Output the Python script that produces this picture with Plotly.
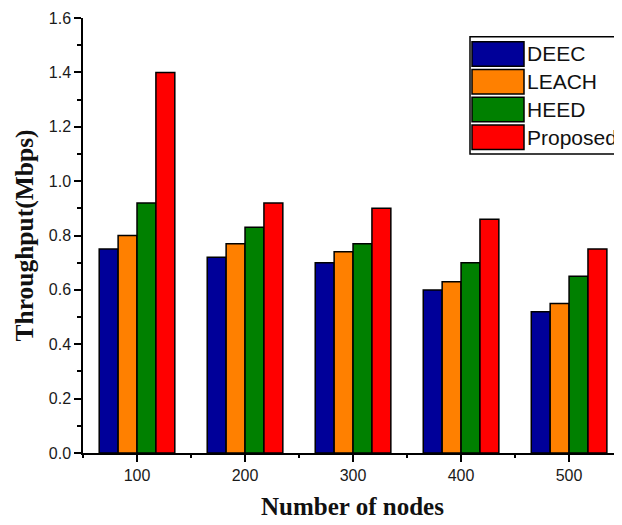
import plotly.graph_objects as go

# ---- data ----
nodes = [100, 200, 300, 400, 500]
series_names = ["DEEC", "LEACH", "HEED", "Proposed"]
deec = [0.75, 0.72, 0.70, 0.60, 0.52]
leach = [0.80, 0.77, 0.74, 0.63, 0.55]
heed = [0.92, 0.83, 0.77, 0.70, 0.65]
proposed = [1.40, 0.92, 0.90, 0.86, 0.75]
y_ticks = [0.0, 0.2, 0.4, 0.6, 0.8, 1.0, 1.2, 1.4, 1.6]

colors = ["#000099", "#FF8000", "#008000", "#FF0000"]
values = [deec, leach, heed, proposed]

# page has an 8px body margin, so the figure is slightly smaller
OFF = 8
W, H = 622 - OFF, 525 - OFF
ML, MR, MT = 83 - OFF, 0, 18 - OFF
MB = H - (453.3 - OFF)
PW = W - ML - MR
PH = H - MT - MB


def px(x):
    # x in page pixels
    return (x - OFF - ML) / PW


def py(y):
    # y in page pixels
    return (H - MB - (y - OFF)) / PH


fig = go.Figure()
for name, vals, col in zip(series_names, values, colors):
    fig.add_trace(go.Bar(
        x=nodes, y=vals, name=name,
        marker=dict(color=col, line=dict(color="black", width=1.5)),
        showlegend=False,
    ))

axis_font = dict(family="Liberation Sans, Arial", size=16, color="#1a1a1a")
ytitle_font = dict(family="Liberation Serif, Times New Roman", size=25.5, color="#111111")
xtitle_font = dict(family="Liberation Serif, Times New Roman", size=25, color="#111111")

fig.update_layout(
    width=W, height=H,
    margin=dict(l=ML, r=MR, t=MT, b=MB, autoexpand=False),
    plot_bgcolor="white", paper_bgcolor="white",
    barmode="group", bargap=0.3, bargroupgap=0,
    xaxis=dict(
        range=[50, 549], tickvals=nodes, ticktext=[str(n) for n in nodes],
        ticks="outside", ticklen=7, tickwidth=1.5, tickcolor="black",
        showline=True, linecolor="black", linewidth=1.5, showgrid=False,
        zeroline=False, tickfont=axis_font,
        minor=dict(dtick=50, tick0=0, ticks="outside", ticklen=3,
                   tickwidth=1.5, tickcolor="black", showgrid=False),
        title=dict(text="<b>Number of nodes</b>", font=xtitle_font, standoff=15),
        automargin=False,
    ),
    yaxis=dict(
        range=[0, 1.6], tickvals=y_ticks, ticktext=[f"{v:.1f}" for v in y_ticks],
        ticks="outside", ticklen=7, tickwidth=1.5, tickcolor="black",
        showline=True, linecolor="black", linewidth=1.5, showgrid=False,
        zeroline=False, tickfont=axis_font,
        minor=dict(dtick=0.1, tick0=0, ticks="outside", ticklen=4,
                   tickwidth=1.5, tickcolor="black", showgrid=False),
        title=dict(text="<b>Throughput(Mbps)</b>", font=ytitle_font, standoff=8),
        automargin=False,
    ),
)

# ---- legend box drawn like the original (large swatches) ----
shapes = []
annotations = []
box_left, box_top, box_bottom = 470, 36.7, 154
shapes.append(dict(type="rect", xref="paper", yref="paper",
                   x0=px(box_left), x1=px(660), y0=py(box_bottom), y1=py(box_top),
                   line=dict(color="black", width=1.5), fillcolor="white", layer="above"))
row_top0, row_h, row_pitch = 41.7, 24.5, 27.8
for i, (name, col) in enumerate(zip(series_names, colors)):
    t = row_top0 + i * row_pitch
    shapes.append(dict(type="rect", xref="paper", yref="paper",
                       x0=px(472), x1=px(524), y0=py(t + row_h), y1=py(t),
                       line=dict(color="black", width=1.5), fillcolor=col, layer="above"))
    annotations.append(dict(xref="paper", yref="paper", x=px(525), y=py(t + row_h / 2),
                            xanchor="left", yanchor="middle", text=name, showarrow=False,
                            font=dict(family="Liberation Sans, Arial", size=21, color="#111111")))

fig.update_layout(shapes=shapes, annotations=annotations)

fig.write_html("out.html")
